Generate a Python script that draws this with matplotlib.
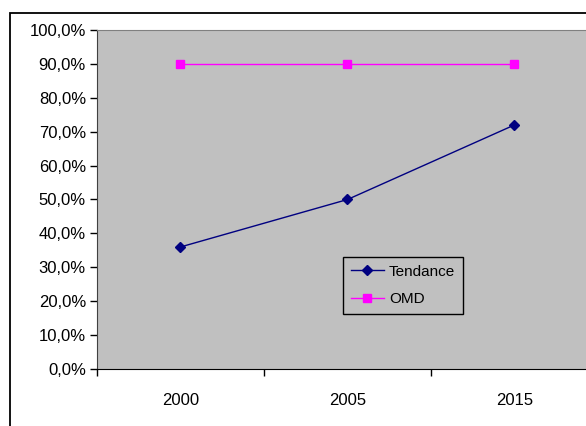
import matplotlib
matplotlib.use('Agg')
import matplotlib.pyplot as plt
from matplotlib.patches import Rectangle
from matplotlib.ticker import FuncFormatter

years = ['2000', '2005', '2015']
tendance = [36.0, 50.0, 72.0]
omd = [90.0, 90.0, 90.0]

plt.rcParams['font.family'] = ['Liberation Sans', 'DejaVu Sans']

W, H = 586, 426
fig = plt.figure(figsize=(W / 100, H / 100), dpi=100)

# outer chart frame (cut off at the right and bottom in the reference)
fig.patches.append(Rectangle((10 / W, -0.1), 1.2, 1 - 13 / H + 0.1,
                             transform=fig.transFigure, fill=False,
                             edgecolor='black', linewidth=1.3))

# plot area runs past the right edge of the image
ax = fig.add_axes([97 / W, 1 - 369 / H, 501 / W, 339 / H])
ax.set_facecolor('#C0C0C0')

x = range(len(years))
ax.plot(x, tendance, color='#000080', marker='D', markersize=5.5, linewidth=1.0,
        label='Tendance')
ax.plot(x, omd, color='#FF00FF', marker='s', markersize=5.5, linewidth=1.0,
        label='OMD')

ax.set_xlim(-0.5, len(years) - 0.5)
ax.set_ylim(0, 100)
ax.set_yticks(range(0, 101, 10))
ax.yaxis.set_major_formatter(FuncFormatter(lambda v, p: f"{v:.1f}%".replace('.', ',')))

# category labels centred, ticks at category boundaries
ax.set_xticks([i + 0.5 for i in range(-1, len(years))])
ax.set_xticklabels([])
ax.set_xticks(list(x), minor=True)
ax.set_xticklabels(years, minor=True)
ax.tick_params(axis='x', which='minor', length=0, pad=17, labelsize=12)
ax.tick_params(axis='x', which='major', length=5, width=1, direction='out')
ax.tick_params(axis='y', length=5, width=1, direction='out', labelsize=12, pad=3)

for side in ['top', 'right']:
    ax.spines[side].set_color('#808080')
ax.spines['left'].set_color('#404040')
ax.spines['bottom'].set_color('black')

leg = ax.legend(loc='upper left', bbox_to_anchor=((343 - 97) / 501, (369 - 257) / 339),
                fancybox=False, framealpha=1, facecolor='#C0C0C0', edgecolor='black',
                fontsize=11, borderpad=0.5, handlelength=2.2, handletextpad=0.3,
                labelspacing=0.9, borderaxespad=0)
leg.get_frame().set_linewidth(1.0)

fig.savefig('out.png', dpi=100)
